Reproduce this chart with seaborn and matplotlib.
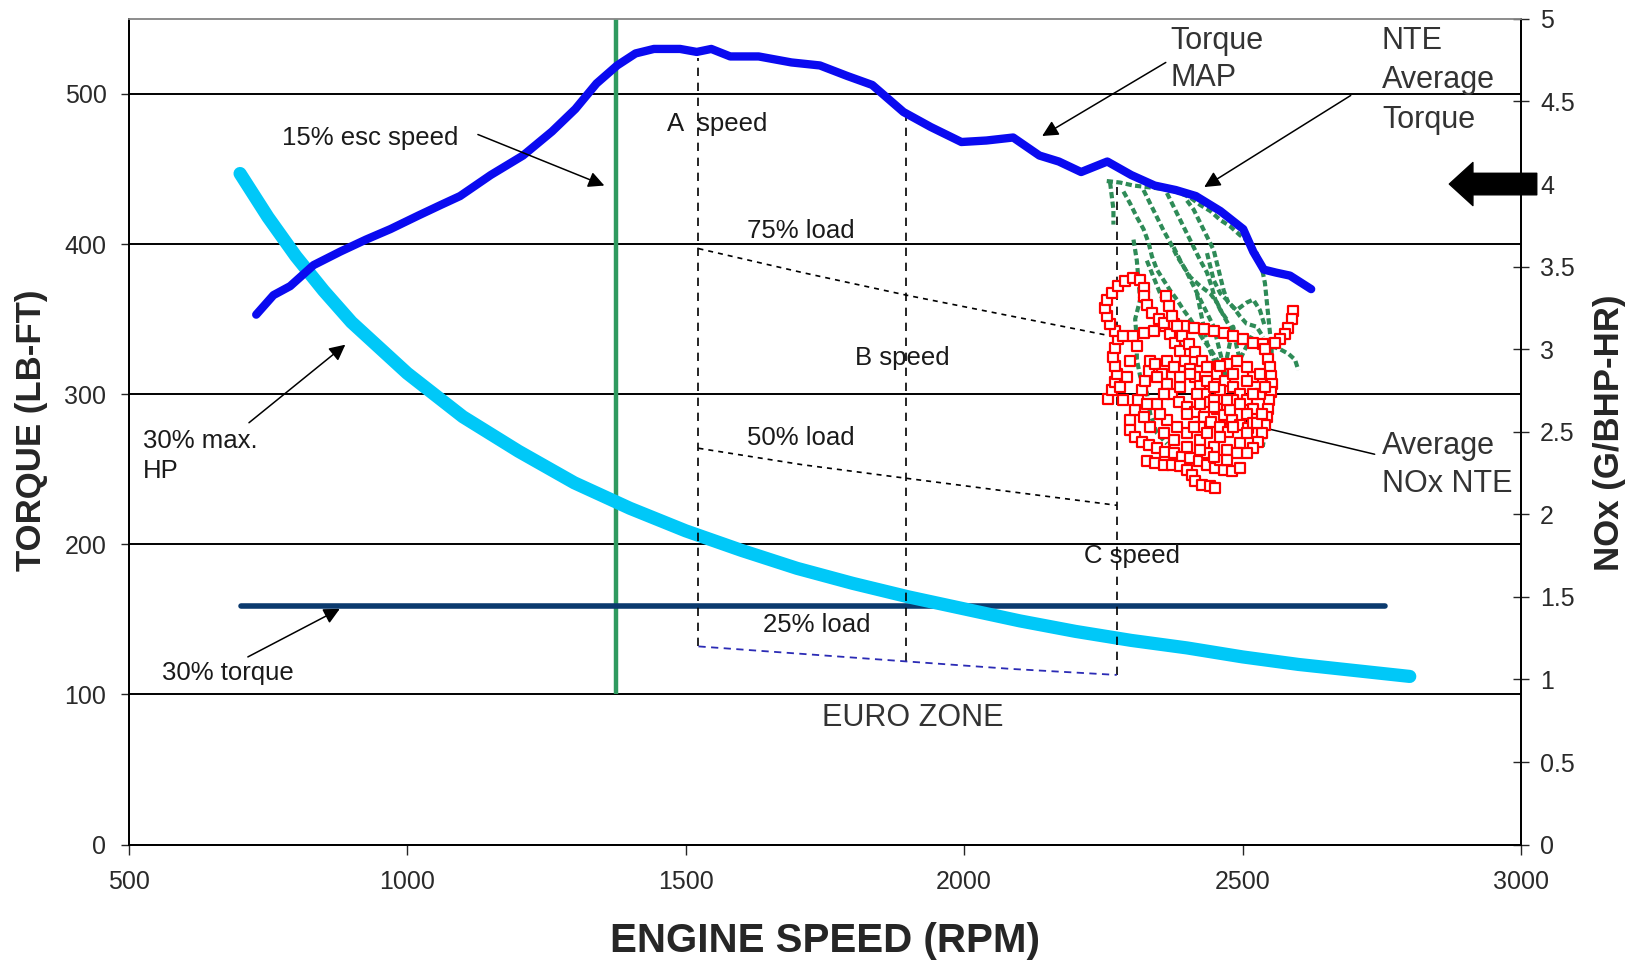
import matplotlib
matplotlib.use("Agg")
import matplotlib.pyplot as plt
import seaborn as sns
from matplotlib.ticker import FuncFormatter

### data (rpm, lb-ft, g/bhp-hr)

# torque map
map_rpm = [729, 760, 790, 832, 880, 926, 970, 1020, 1060, 1095, 1150, 1208, 1260, 1302,
           1340, 1377, 1410, 1443, 1490, 1520, 1546, 1580, 1631, 1690, 1741, 1790, 1835,
           1891, 1940, 1995, 2040, 2088, 2135, 2170, 2210, 2257, 2300, 2342, 2380, 2416,
           2460, 2501, 2519, 2538, 2560, 2585, 2623]
map_torque = [353, 366, 372, 386, 395, 403, 410, 419, 426, 432, 446, 459, 475, 490,
              507, 519, 527, 530, 530, 528, 530, 525, 525, 521, 519, 512, 506,
              488, 478, 468, 469, 471, 459, 455, 448, 455, 446, 439, 436, 432,
              422, 410, 395, 383, 381, 379, 370]

# 30% max. HP curve
hp_rpm = [700, 750, 800, 850, 900, 1000, 1100, 1200, 1300, 1400, 1500, 1600,
          1700, 1800, 1900, 2000, 2100, 2200, 2300, 2400, 2500, 2600, 2700, 2800]
hp_torque = [447, 418, 392, 369, 348, 314, 285, 262, 241, 224, 209, 196,
             184, 174, 165, 157, 149, 142, 136, 131, 125, 120, 116, 112]

# 30% torque line and 15% esc speed line
pct30_rpm = [701, 2756]
pct30_torque = [159, 159]
esc_rpm = [1375]
esc_range = [100, 550]

# A / B / C speeds and load lines
abc_rpm = [1523, 1896, 2274]
abc_top = [524, 486, 438]
abc_bottom = [132, 122, 113]
load_rpm = [1523, 1710, 1896, 2085, 2274]
load75 = [397, 381, 366, 352, 338]
load50 = [264, 253, 244, 235, 226]
load25 = [132, 127, 122, 117, 113]

# NTE torque traces (rpm, lb-ft)
nte_1 = [(2256, 442), (2280, 441), (2304, 439), (2328, 438), (2352, 437), (2370, 436),
         (2388, 434), (2406, 431), (2424, 426), (2442, 422), (2460, 416), (2477, 412),
         (2495, 406), (2513, 401), (2525, 394), (2534, 385), (2540, 374), (2543, 363),
         (2546, 352), (2549, 341), (2552, 330), (2552, 318), (2549, 305), (2546, 292),
         (2542, 278), (2536, 265)]
nte_2 = [(2262, 441), (2265, 432), (2268, 423), (2268, 413)]
nte_3 = [(2286, 435), (2298, 427), (2310, 418), (2322, 410), (2331, 401), (2337, 392),
         (2346, 383), (2358, 376), (2370, 369), (2382, 363), (2394, 356), (2406, 350),
         (2418, 343), (2430, 336), (2442, 330), (2454, 323), (2466, 316)]
nte_4 = [(2322, 436), (2334, 427), (2346, 418), (2358, 409), (2370, 401), (2382, 392),
         (2394, 385), (2406, 378), (2424, 372), (2442, 367), (2454, 361), (2466, 352),
         (2477, 345), (2489, 341)]
nte_5 = [(2364, 434), (2376, 425), (2388, 416), (2400, 407), (2412, 398), (2424, 389),
         (2436, 381), (2444, 372), (2451, 363), (2460, 356), (2471, 350)]
nte_6 = [(2400, 429), (2412, 423), (2424, 414), (2436, 405), (2448, 396), (2454, 387),
         (2460, 378), (2466, 369), (2474, 361), (2489, 356), (2507, 361), (2519, 363),
         (2531, 356), (2540, 345)]
nte_7 = [(2304, 403), (2310, 389), (2313, 376), (2316, 363), (2307, 350), (2310, 336),
         (2310, 323), (2316, 312), (2328, 301), (2334, 287), (2346, 274), (2364, 267)]
nte_8 = [(2552, 332), (2567, 330), (2582, 327), (2594, 323), (2600, 316)]
nte_9 = [(2418, 367), (2424, 356), (2430, 345), (2436, 334), (2448, 323), (2460, 312),
         (2471, 323), (2477, 334), (2483, 345), (2489, 332), (2495, 323), (2507, 332),
         (2519, 341)]
nte_10 = [(2376, 398), (2388, 389), (2400, 381), (2412, 372), (2424, 363), (2436, 354),
          (2448, 345), (2454, 336), (2460, 327), (2466, 318), (2471, 309)]
nte_11 = [(2436, 394), (2442, 385), (2448, 376), (2460, 367), (2471, 363), (2483, 358),
          (2495, 352), (2507, 347), (2525, 345), (2537, 338)]
nte_12 = [(2328, 389), (2340, 378), (2352, 367), (2364, 356), (2376, 345), (2388, 332),
          (2400, 318), (2418, 309)]
nte_traces = [nte_1, nte_2, nte_3, nte_4, nte_5, nte_6, nte_7, nte_8, nte_9,
              nte_10, nte_11, nte_12]

# NOx traces (rpm, g/bhp-hr)
nox_1 = [(2259, 2.70), (2265, 2.75), (2271, 2.80), (2274, 2.85), (2271, 2.90), (2268, 2.95),
         (2271, 3.01), (2277, 3.06), (2271, 3.11), (2262, 3.15), (2256, 3.20), (2253, 3.25),
         (2256, 3.30), (2265, 3.34), (2277, 3.38), (2289, 3.41), (2304, 3.43), (2316, 3.42),
         (2322, 3.37), (2322, 3.32), (2328, 3.27), (2337, 3.22), (2349, 3.18), (2361, 3.14),
         (2370, 3.09), (2379, 3.04), (2388, 2.99), (2397, 2.93), (2406, 2.88), (2415, 2.83),
         (2424, 2.78), (2433, 2.73), (2442, 2.68), (2454, 2.64), (2466, 2.60), (2480, 2.57),
         (2495, 2.54), (2510, 2.52)]
nox_2 = [(2286, 3.08), (2304, 3.08), (2322, 3.10), (2340, 3.11), (2358, 3.16), (2376, 3.15),
         (2394, 3.14), (2412, 3.13), (2430, 3.12), (2448, 3.11), (2466, 3.10), (2483, 3.08),
         (2501, 3.06), (2519, 3.04), (2537, 3.03)]
nox_3 = [(2363, 3.32), (2367, 3.26), (2373, 3.20), (2382, 3.14), (2391, 3.08), (2403, 3.03),
         (2415, 2.98), (2427, 2.93), (2439, 2.89), (2454, 2.85), (2469, 2.81), (2483, 2.77),
         (2495, 2.73), (2507, 2.69), (2519, 2.64)]
nox_4 = [(2540, 3.00), (2546, 2.94), (2549, 2.89), (2550, 2.84), (2552, 2.79), (2550, 2.74),
         (2548, 2.69), (2546, 2.64), (2543, 2.59), (2540, 2.54), (2534, 2.49), (2528, 2.44),
         (2519, 2.40), (2507, 2.37)]
nox_5 = [(2298, 2.57), (2298, 2.51), (2307, 2.47), (2319, 2.44), (2331, 2.42), (2346, 2.40),
         (2361, 2.38), (2376, 2.37), (2391, 2.35), (2406, 2.34), (2421, 2.32), (2436, 2.30),
         (2451, 2.28), (2466, 2.27), (2480, 2.26), (2495, 2.28)]
nox_6 = [(2328, 2.32), (2343, 2.31), (2358, 2.30), (2373, 2.30), (2388, 2.29), (2400, 2.27),
         (2409, 2.24), (2415, 2.20), (2427, 2.18), (2442, 2.17), (2451, 2.16)]
nox_7 = [(2307, 2.63), (2313, 2.69), (2319, 2.75), (2325, 2.81), (2331, 2.87), (2334, 2.93),
         (2343, 2.91), (2355, 2.85), (2364, 2.79), (2373, 2.73), (2385, 2.68), (2400, 2.65),
         (2415, 2.62), (2430, 2.59), (2444, 2.56), (2460, 2.53), (2474, 2.50)]
nox_8 = [(2591, 3.23), (2588, 3.18), (2582, 3.13), (2576, 3.09), (2567, 3.06), (2558, 3.04)]
nox_9 = [(2406, 2.85), (2436, 2.81), (2460, 2.75), (2483, 2.69), (2507, 2.61), (2519, 2.55),
         (2495, 2.43), (2471, 2.39), (2448, 2.41), (2424, 2.45), (2400, 2.49), (2382, 2.53),
         (2364, 2.57), (2352, 2.61), (2346, 2.67), (2358, 2.73), (2388, 2.77), (2418, 2.73),
         (2448, 2.69), (2477, 2.63), (2531, 2.73), (2519, 2.83), (2507, 2.89), (2489, 2.93),
         (2471, 2.91), (2448, 2.77), (2424, 2.53), (2460, 2.33), (2436, 2.37)]
nox_10 = [(2436, 2.89), (2460, 2.90), (2483, 2.85), (2507, 2.81), (2531, 2.85), (2540, 2.77),
          (2519, 2.73), (2495, 2.67), (2471, 2.69), (2448, 2.65), (2424, 2.67), (2400, 2.61),
          (2412, 2.53), (2436, 2.49), (2460, 2.47), (2483, 2.53), (2507, 2.49), (2525, 2.55),
          (2534, 2.61), (2489, 2.37), (2471, 2.33), (2448, 2.35), (2424, 2.39), (2400, 2.41),
          (2376, 2.45), (2358, 2.49), (2334, 2.53), (2322, 2.59), (2328, 2.67), (2346, 2.83),
          (2364, 2.93), (2376, 2.89), (2388, 2.83), (2310, 3.02), (2298, 2.93), (2292, 2.83),
          (2280, 2.77), (2286, 2.69)]
nox_traces = [nox_1, nox_2, nox_3, nox_4, nox_5, nox_6, nox_7, nox_8, nox_9, nox_10]

nox_avg = 4.0

### figure
sns.set_style("white")
plt.rcParams['font.family'] = ['Liberation Sans', 'DejaVu Sans']

fig = plt.figure(figsize=(16.39, 9.65), dpi=100)
ax = fig.add_axes([0.0785, 0.1248, 0.8496, 0.8556])
ax.set_xlim(500, 3000)
ax.set_ylim(0, 550)
ax.set_xticks(range(500, 3001, 500))
ax.set_yticks(range(0, 501, 100))
ax.yaxis.grid(True, color='black', lw=1.4)
ax.set_axisbelow(True)

# reference lines
ax.vlines(esc_rpm, esc_range[0], esc_range[1], color='#2f9a5f', lw=3.2, zorder=3)
sns.lineplot(x=pct30_rpm, y=pct30_torque, color='#0b3a6e', lw=4, ax=ax, zorder=3)
sns.lineplot(x=hp_rpm, y=hp_torque, color='#00c8f8', lw=9.5, ax=ax, zorder=3,
             solid_capstyle='round')

# A/B/C speeds and load lines
ax.vlines(abc_rpm, abc_bottom, abc_top, color='black', lw=1.2, linestyles=(0, (5, 4)), zorder=4)
sns.lineplot(x=load_rpm, y=load75, color='black', lw=1.2, ls=(0, (3, 3)), ax=ax, zorder=4)
sns.lineplot(x=load_rpm, y=load50, color='black', lw=1.2, ls=(0, (3, 3)), ax=ax, zorder=4)
sns.lineplot(x=load_rpm, y=load25, color='#2b2bb5', lw=1.3, ls=(0, (4, 3)), ax=ax, zorder=4)

# NTE torque traces
for tr in nte_traces:
    ax.plot([p[0] for p in tr], [p[1] for p in tr], color='#2e8b57', lw=3.0,
            ls=(0, (1.5, 0.8)), zorder=4)

# torque map
sns.lineplot(x=map_rpm, y=map_torque, color='#0a0af0', lw=6, ax=ax, zorder=5,
             sort=False, estimator=None)

# NOx on the right axis
ax2 = ax.twinx()
ax2.set_ylim(0, 5)
ax2.set_yticks([i * 0.5 for i in range(11)])
ax2.yaxis.set_major_formatter(FuncFormatter(lambda v, p: '%g' % v))
nox_x = [p[0] for tr in nox_traces for p in tr]
nox_y = [p[1] for tr in nox_traces for p in tr]
ax2.scatter(nox_x, nox_y, marker='s', s=44, facecolor='white', edgecolor='#ff0000',
            linewidth=1.6, zorder=6)

# big arrow at 4 g/bhp-hr
ax2.annotate('', xy=(2871, nox_avg), xytext=(3028, nox_avg), annotation_clip=False,
             arrowprops=dict(facecolor='black', edgecolor='black', width=15.5,
                             headwidth=31, headlength=17, shrink=0))

# spines / ticks
for a in (ax, ax2):
    for s in ('left', 'bottom', 'right'):
        a.spines[s].set_color('black')
        a.spines[s].set_linewidth(1.3)
    a.spines['top'].set_color('#8c8c8c')
    a.spines['top'].set_linewidth(1.2)

tick_col = '#2a2a2a'
ax.tick_params(axis='y', direction='out', length=6, width=1, pad=10, labelsize=18,
               labelcolor=tick_col, left=True)
ax.tick_params(axis='x', direction='out', length=7, width=1, pad=11, labelsize=18,
               labelcolor=tick_col, bottom=True)
ax2.tick_params(axis='y', direction='inout', length=11, width=1, pad=8, labelsize=18,
                labelcolor=tick_col, right=True)

fig.text(0.5032, 0.0249, 'ENGINE SPEED (RPM)', ha='center', va='center',
         fontsize=29, fontweight='bold')
fig.text(0.0192, 0.5544, 'TORQUE (LB-FT)', ha='center', va='center', rotation=90,
         fontsize=25, fontweight='bold')
fig.text(0.9822, 0.5515, 'NOx (G/BHP-HR)', ha='center', va='center', rotation=90,
         fontsize=25, fontweight='bold')

# labels
txt = '#1a1a1a'
small = 18.5
ax.text(776, 471, '15% esc speed', fontsize=small, color=txt, va='center')
ax.text(1467, 480, 'A  speed', fontsize=small, color=txt, va='center')
ax.text(1611, 409, '75% load', fontsize=small, color=txt, va='center')
ax.text(1804, 324, 'B speed', fontsize=small, color=txt, va='center')
ax.text(1611, 271, '50% load', fontsize=small, color=txt, va='center')
ax.text(2215, 192, 'C speed', fontsize=small, color=txt, va='center')
ax.text(1639, 146, '25% load', fontsize=small, color=txt, va='center')
ax.text(560, 114, '30% torque', fontsize=small, color=txt, va='center')
ax.text(526, 259, '30% max.\nHP', fontsize=small, color=txt, va='center', linespacing=1.3)
ax.text(1908, 84, 'EURO ZONE', fontsize=22, color='#333333', va='center', ha='center')
ax.text(2371, 523, 'Torque\nMAP', fontsize=22, color='#333333', va='center', linespacing=1.27)
ax.text(2750, 509, 'NTE\nAverage\nTorque', fontsize=22, color='#333333', va='center',
        linespacing=1.42)
ax.text(2750, 253, 'Average\nNOx NTE', fontsize=22, color='#333333', va='center',
        linespacing=1.36)

# thin pointer arrows (tail -> head)
def pointer(x0, y0, x1, y1, ms=24):
    ax.annotate('', xy=(x1, y1), xytext=(x0, y0), zorder=7,
                arrowprops=dict(arrowstyle='-|>', color='black', lw=1.1,
                                mutation_scale=ms, shrinkA=0, shrinkB=0))

pointer(1127, 473, 1354, 439)
pointer(716, 281, 889, 333)
pointer(714, 125, 879, 157)
pointer(2362, 521, 2140, 472)
pointer(2694, 499, 2431, 438)
pointer(2737, 260, 2489, 282, ms=28)

fig.savefig('out.png', dpi=100, facecolor='white')
